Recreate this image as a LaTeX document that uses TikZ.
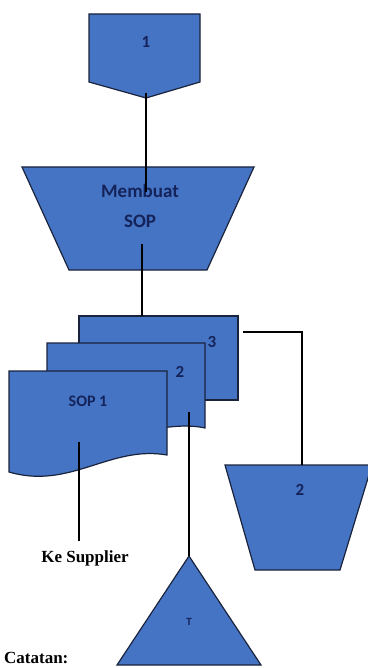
\documentclass[tikz,border=0pt]{standalone}
\usepackage{fontspec}
\setmainfont{Carlito}
\newfontfamily\serifbold{Liberation Serif}
\usetikzlibrary{positioning, calc}
\definecolor{flowblue}{RGB}{70,116,196}
\definecolor{flowedge}{RGB}{25,35,60}
\definecolor{flowtext}{RGB}{20,35,90}
\tikzset{
  shapebox/.style={fill=flowblue, draw=flowedge, line width=1.2pt, line join=miter},
  lbl/.style={font=\fontsize{17}{19}\selectfont\bfseries, text=flowtext, inner sep=0pt},
  wire/.style={draw=black, line width=1.8pt},
  note/.style={font=\serifbold\bfseries\fontsize{17}{19}\selectfont, inner sep=0pt}
}
\begin{document}
\begin{tikzpicture}[x=1pt, y=-1pt]
  \useasboundingbox (0,0) rectangle (367,668);
  % off-page connector
  \draw[shapebox] (89,14) -- (200,14) -- (200,82) -- (146,98) -- (89,82) -- cycle;
  \node[lbl] (conn1) at (146,42) {1};
  \coordinate (conn1b) at (146,93);
  % manual operation
  \draw[shapebox] (22,167) -- (254,167) -- (207,270) -- (69,270) -- cycle;
  \node[lbl, align=center, font=\fontsize{19}{30}\selectfont\bfseries] (sop) at (140,206) {Membuat\\SOP};
  \coordinate (sopin) at (146,192);
  \coordinate (sopout) at (142,244);
  % documents
  \draw[shapebox] (79,316) -- (238,316) -- (238,400) -- (79,400) -- cycle;
  \node[lbl] (doc3) at (212,342) {3};
  \draw[shapebox] (47,343) -- (205,343) -- (205,428)
    .. controls (160,418) and (100,450) .. (47,440) -- cycle;
  \node[lbl] (doc2) at (180,372) {2};
  \draw[shapebox] (9,371) -- (167,371) -- (167,455)
    .. controls (110,445) and (70,490) .. (9,472) -- cycle;
  \node[lbl, font=\fontsize{16}{18}\selectfont\bfseries] (doc1) at (88,401) {SOP 1};
  \coordinate (doc1b) at (79,442);
  \coordinate (doc2b) at (189,412);
  \coordinate (doc3r) at (243,332);
  % second manual operation
  \draw[shapebox] (225,465) -- (372,465) -- (340,570) -- (255,570) -- cycle;
  \node[lbl] (man2) at (300,490) {2};
  % archive
  \draw[shapebox] (189,556) -- (261,665) -- (117,665) -- cycle;
  \node[lbl, font=\fontsize{11}{12}\selectfont\bfseries] (arsip) at (189,622) {T};
  % texts
  \node[note] (supp) at (85,558) {Ke Supplier};
  \node[note, anchor=base west] (cat) at (4,663) {Catatan:};
  % connectors
  \draw[wire] (conn1b) -- (sopin);
  \draw[wire] (sopout) -- (sopout |- 0,316);
  \draw[wire] (doc1b) -- (79,541);
  \draw[wire] (doc2b) -- (arsip.center |- 0,556);
  \draw[wire] (doc3r) -- (302,332) -- (302,465);
\end{tikzpicture}
\end{document}
